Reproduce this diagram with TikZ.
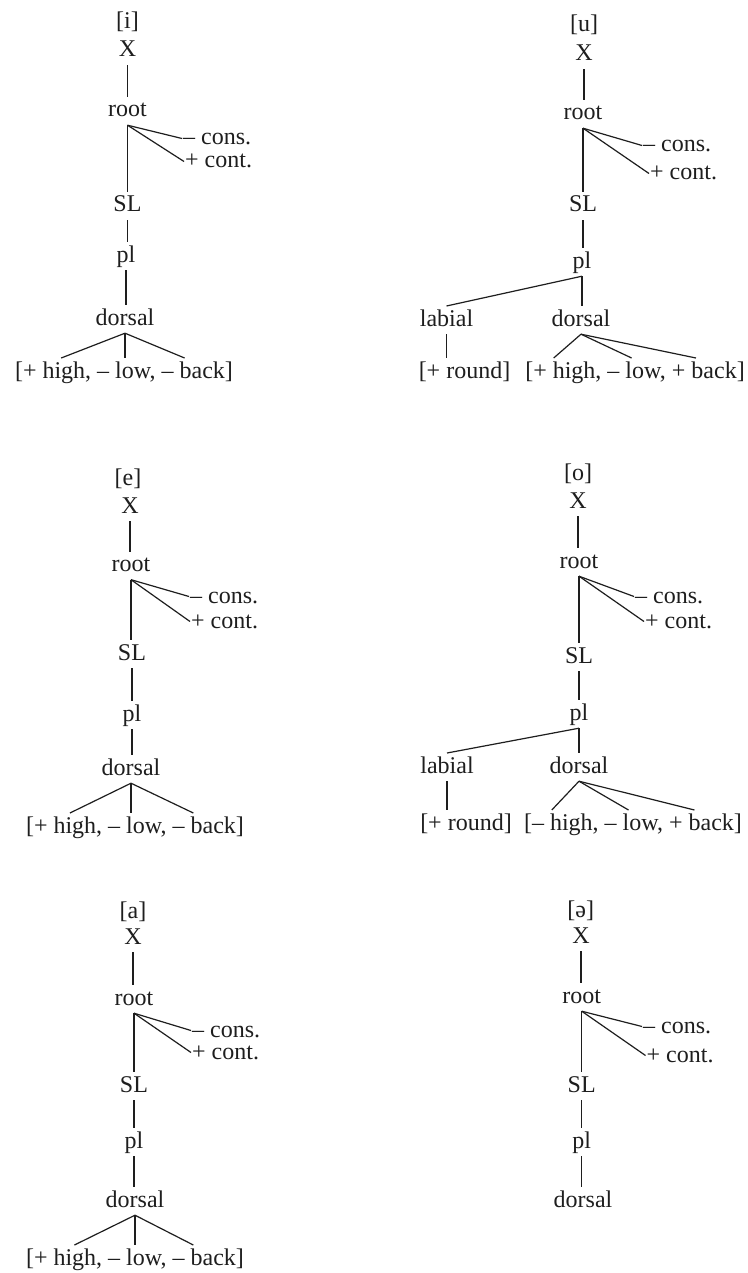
\documentclass[tikz,border=0pt]{standalone}
\usepackage{fontspec}
\setmainfont{Liberation Serif}
\usetikzlibrary{calc}
\definecolor{ink}{RGB}{30,30,30}
\begin{document}
\begin{tikzpicture}[x=1pt,y=-1pt,
  lbl/.style={text=ink, font=\fontsize{24}{28}\selectfont, inner sep=3pt, text height=16.8pt, text depth=5pt, anchor=base},
  leaf/.style={lbl, inner sep=1pt, text height=16pt, text depth=3pt, anchor=base west},
  ln/.style={draw=ink, line width=1.2pt}]
\useasboundingbox[fill=white] (0,0) rectangle (747,1273);

% ---------- [i] ----------
\node[lbl] (i-ph) at (127.5,29) {[i]};
\node[lbl] (i-X) at (127.5,57) {X};
\node[lbl] (i-root) at (127.5,117) {root};
\node[leaf] (i-cons) at (182,145) {– cons.};
\node[leaf] (i-cont) at (184,168) {+ cont.};
\node[lbl] (i-SL) at (127.5,212) {SL};
\node[lbl] (i-pl) at (126,262) {pl};
\node[lbl] (i-dor) at (125,325) {dorsal};
\node[lbl] (i-f) at (124,378) {[+ high, – low, – back]};
\draw[ln] (i-X.south) -- (i-X.south |- i-root.north);
\draw[ln] (i-root.south) -- (i-cons.west);
\draw[ln] (i-root.south) -- (i-cont.west);
\draw[ln] (i-root.south) -- (i-root.south |- i-SL.north);
\draw[ln] (i-SL.south) -- (i-SL.south |- i-pl.north);
\draw[ln] (i-pl.south) -- (i-pl.south |- i-dor.north);
\draw[ln] (i-dor.south) -- ($(i-f.north west)!0.22!(i-f.north east)$);
\draw[ln] (i-dor.south) -- (i-dor.south |- i-f.north);
\draw[ln] (i-dor.south) -- ($(i-f.north west)!0.77!(i-f.north east)$);

% ---------- [u] ----------
\node[lbl] (u-ph) at (584,32) {[u]};
\node[lbl] (u-X) at (584,61) {X};
\node[lbl] (u-root) at (583,120) {root};
\node[leaf] (u-cons) at (642,152) {– cons.};
\node[leaf] (u-cont) at (649,180) {+ cont.};
\node[lbl] (u-SL) at (583,212) {SL};
\node[lbl] (u-pl) at (582,268) {pl};
\node[lbl] (u-lab) at (446.5,326) {labial};
\node[lbl] (u-dor) at (581,326) {dorsal};
\node[lbl] (u-rd) at (464.5,378) {[+ round]};
\node[lbl] (u-f) at (635,378) {[+ high, – low, + back]};
\draw[ln] (u-X.south) -- (u-X.south |- u-root.north);
\draw[ln] (u-root.south) -- (u-cons.west);
\draw[ln] (u-root.south) -- (u-cont.west);
\draw[ln] (u-root.south) -- (u-root.south |- u-SL.north);
\draw[ln] (u-SL.south) -- (u-SL.south |- u-pl.north);
\draw[ln] (u-pl.south) -- (u-lab.north);
\draw[ln] (u-pl.south) -- (u-pl.south |- u-dor.north);
\draw[ln] (u-lab.south) -- (u-lab.south |- u-rd.north);
\draw[ln] (u-dor.south) -- ($(u-f.north west)!0.14!(u-f.north east)$);
\draw[ln] (u-dor.south) -- ($(u-f.north west)!0.485!(u-f.north east)$);
\draw[ln] (u-dor.south) -- ($(u-f.north west)!0.77!(u-f.north east)$);

% ---------- [e] ----------
\node[lbl] (e-ph) at (128,485) {[e]};
\node[lbl] (e-X) at (130,513) {X};
\node[lbl] (e-root) at (131,571.5) {root};
\node[leaf] (e-cons) at (189,603) {– cons.};
\node[leaf] (e-cont) at (190,628) {+ cont.};
\node[lbl] (e-SL) at (132,660) {SL};
\node[lbl] (e-pl) at (132,721) {pl};
\node[lbl] (e-dor) at (131,775) {dorsal};
\node[lbl] (e-f) at (135,833) {[+ high, – low, – back]};
\draw[ln] (e-X.south) -- (e-X.south |- e-root.north);
\draw[ln] (e-root.south) -- (e-cons.west);
\draw[ln] (e-root.south) -- (e-cont.west);
\draw[ln] (e-root.south) -- (e-root.south |- e-SL.north);
\draw[ln] (e-SL.south) -- (e-SL.south |- e-pl.north);
\draw[ln] (e-pl.south) -- (e-pl.south |- e-dor.north);
\draw[ln] (e-dor.south) -- ($(e-f.north west)!0.21!(e-f.north east)$);
\draw[ln] (e-dor.south) -- (e-dor.south |- e-f.north);
\draw[ln] (e-dor.south) -- ($(e-f.north west)!0.76!(e-f.north east)$);

% ---------- [o] ----------
\node[lbl] (o-ph) at (578,480) {[o]};
\node[lbl] (o-X) at (578,508) {X};
\node[lbl] (o-root) at (579,568) {root};
\node[leaf] (o-cons) at (634,603) {– cons.};
\node[leaf] (o-cont) at (644,628) {+ cont.};
\node[lbl] (o-SL) at (579,663) {SL};
\node[lbl] (o-pl) at (579,720) {pl};
\node[lbl] (o-lab) at (447,773) {labial};
\node[lbl] (o-dor) at (579,773) {dorsal};
\node[lbl] (o-rd) at (466,830) {[+ round]};
\node[lbl] (o-f) at (633,830) {[– high, – low, + back]};
\draw[ln] (o-X.south) -- (o-X.south |- o-root.north);
\draw[ln] (o-root.south) -- (o-cons.west);
\draw[ln] (o-root.south) -- (o-cont.west);
\draw[ln] (o-root.south) -- (o-root.south |- o-SL.north);
\draw[ln] (o-SL.south) -- (o-SL.south |- o-pl.north);
\draw[ln] (o-pl.south) -- (o-lab.north);
\draw[ln] (o-pl.south) -- (o-pl.south |- o-dor.north);
\draw[ln] (o-lab.south) -- (o-lab.south |- o-rd.north);
\draw[ln] (o-dor.south) -- ($(o-f.north west)!0.138!(o-f.north east)$);
\draw[ln] (o-dor.south) -- ($(o-f.north west)!0.48!(o-f.north east)$);
\draw[ln] (o-dor.south) -- ($(o-f.north west)!0.774!(o-f.north east)$);

% ---------- [a] ----------
\node[lbl] (a-ph) at (133,918) {[a]};
\node[lbl] (a-X) at (133,944) {X};
\node[lbl] (a-root) at (134,1005) {root};
\node[leaf] (a-cons) at (191,1037) {– cons.};
\node[leaf] (a-cont) at (191,1059) {+ cont.};
\node[lbl] (a-SL) at (134,1092) {SL};
\node[lbl] (a-pl) at (134,1148) {pl};
\node[lbl] (a-dor) at (135,1207) {dorsal};
\node[lbl] (a-f) at (135,1265) {[+ high, – low, – back]};
\draw[ln] (a-X.south) -- (a-X.south |- a-root.north);
\draw[ln] (a-root.south) -- (a-cons.west);
\draw[ln] (a-root.south) -- (a-cont.west);
\draw[ln] (a-root.south) -- (a-root.south |- a-SL.north);
\draw[ln] (a-SL.south) -- (a-SL.south |- a-pl.north);
\draw[ln] (a-pl.south) -- (a-pl.south |- a-dor.north);
\draw[ln] (a-dor.south) -- ($(a-f.north west)!0.23!(a-f.north east)$);
\draw[ln] (a-dor.south) -- (a-dor.south |- a-f.north);
\draw[ln] (a-dor.south) -- ($(a-f.north west)!0.76!(a-f.north east)$);

% ---------- [schwa] ----------
\node[lbl] (s-ph) at (580.7,917) {[ə]};
\node[lbl] (s-X) at (581,943) {X};
\node[lbl] (s-root) at (581.7,1003) {root};
\node[leaf] (s-cons) at (642,1033) {– cons.};
\node[leaf] (s-cont) at (645.5,1062) {+ cont.};
\node[lbl] (s-SL) at (581.7,1092) {SL};
\node[lbl] (s-pl) at (581.7,1148) {pl};
\node[lbl] (s-dor) at (583,1207) {dorsal};
\draw[ln] (s-X.south) -- (s-X.south |- s-root.north);
\draw[ln] (s-root.south) -- (s-cons.west);
\draw[ln] (s-root.south) -- (s-cont.west);
\draw[ln] (s-root.south) -- (s-root.south |- s-SL.north);
\draw[ln] (s-SL.south) -- (s-SL.south |- s-pl.north);
\draw[ln] (s-pl.south) -- (s-pl.south |- s-dor.north);
\end{tikzpicture}
\end{document}
